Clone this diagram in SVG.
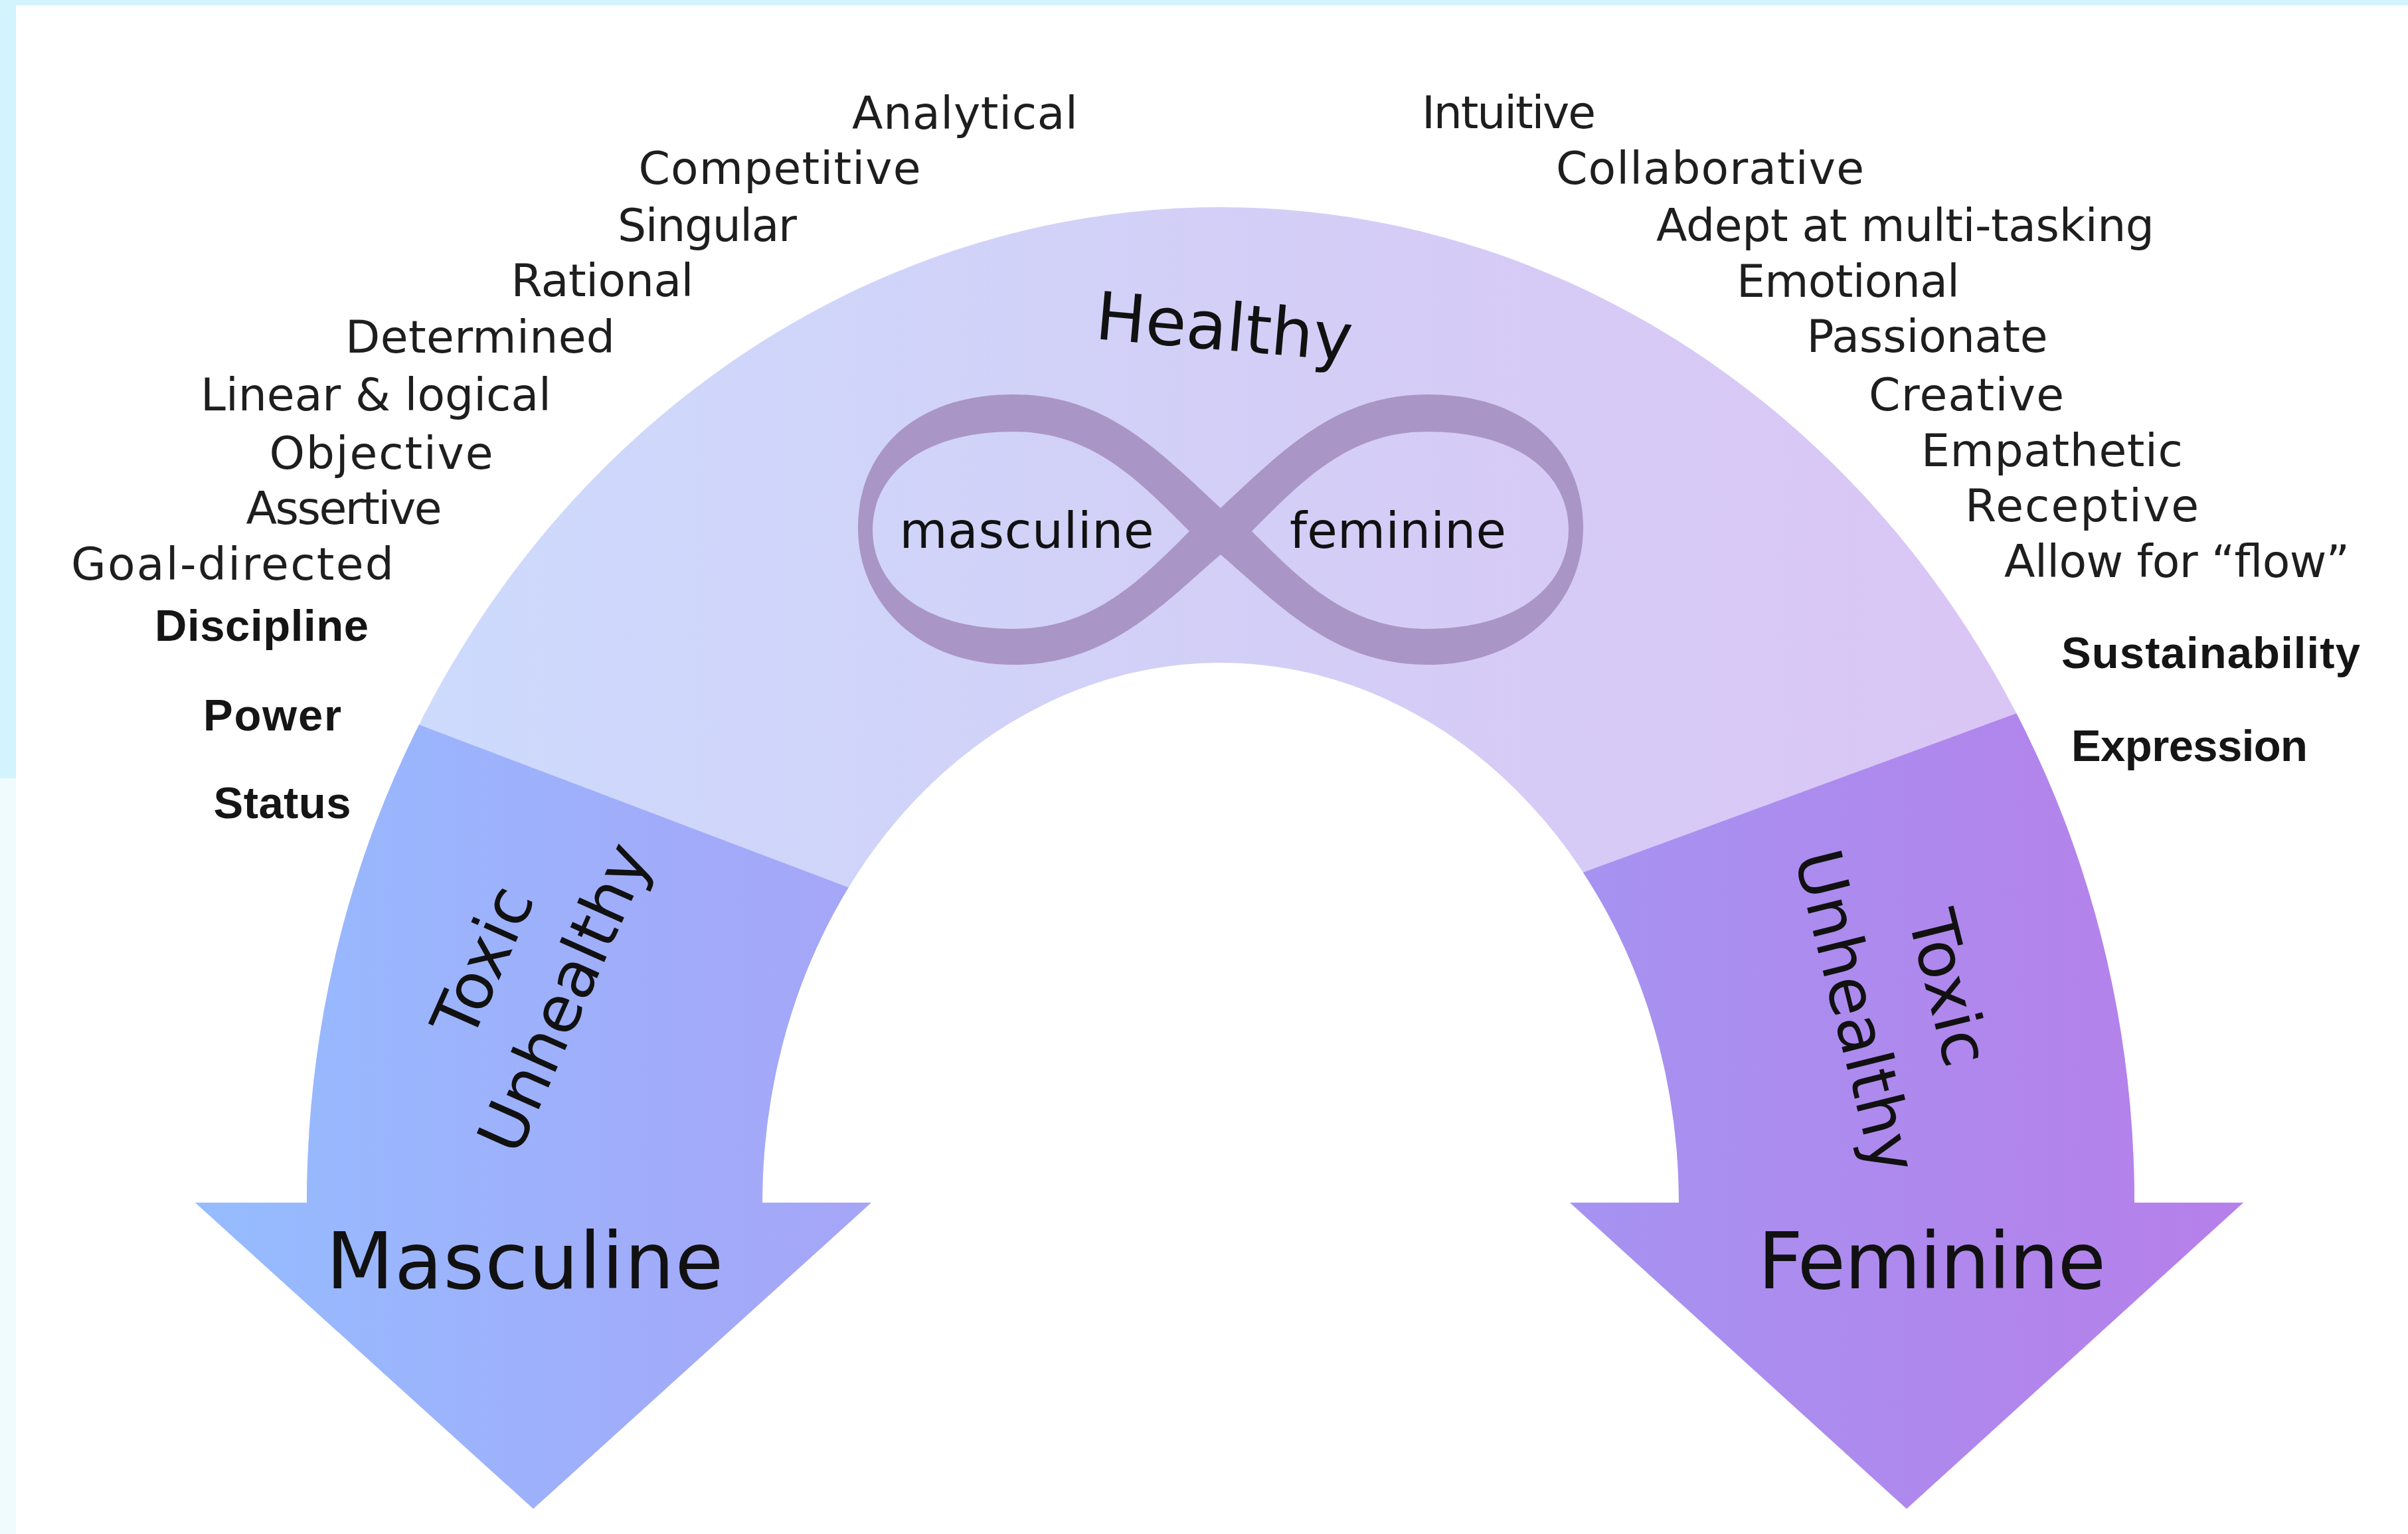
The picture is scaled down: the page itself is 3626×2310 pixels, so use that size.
<svg xmlns="http://www.w3.org/2000/svg" width="3626" height="2310" viewBox="0 0 3626 2310">
<style>
.t{font-family:"DejaVu Sans","Liberation Sans",sans-serif;font-size:68px;fill:#1e1e1e;}
.b{font-family:"Liberation Sans",Arial,sans-serif;font-weight:bold;font-size:67px;fill:#151515;}
.big{font-family:"DejaVu Sans","Liberation Sans",sans-serif;fill:#111111;}
</style>
<defs>
<linearGradient id="gHealthy" gradientUnits="userSpaceOnUse" x1="462" y1="0" x2="3214" y2="0">
<stop offset="0" stop-color="#ccdcfd"/><stop offset="0.5" stop-color="#d3cff7"/><stop offset="1" stop-color="#dbc4f4"/>
</linearGradient>
<linearGradient id="gMasc" gradientUnits="userSpaceOnUse" x1="298" y1="0" x2="1312" y2="0">
<stop offset="0" stop-color="#95bcff"/><stop offset="1" stop-color="#a6a5f7"/>
</linearGradient>
<linearGradient id="gFem" gradientUnits="userSpaceOnUse" x1="2364" y1="0" x2="3378" y2="0">
<stop offset="0" stop-color="#a693f1"/><stop offset="1" stop-color="#b67fea"/>
</linearGradient>
<path id="archShape" d="M 294 1811 L 803 2272 L 1312 1811 L 1148 1811 A 690 813 0 0 1 2528 1811 L 2364 1811 L 2871 2272 L 3378 1811 L 3214 1811 A 1376 1499 0 0 0 462 1811 Z"/>
<clipPath id="clipMasc"><polygon points="0,852 1838,1549 1838,2310 0,2310"/></clipPath>
<clipPath id="clipFem"><polygon points="1838,1514 3626,858 3626,2310 1838,2310"/></clipPath>
</defs>

<g id="background">
<rect x="0" y="0" width="3626" height="2310" fill="#d3f3fd"/>
<rect x="0" y="1172" width="24" height="1138" fill="#f0fbfe"/>
<rect x="24" y="8" width="3602" height="2302" fill="#ffffff"/>
</g>

<g id="healthy-arc">
<use href="#archShape" fill="url(#gHealthy)"/>
<text class="big" x="1843" y="527" font-size="100" text-anchor="middle" transform="rotate(5 1843 500)">Healthy</text>
</g>

<g id="masculine-arrow">
<use href="#archShape" fill="url(#gMasc)" clip-path="url(#clipMasc)"/>
<text class="big" font-size="97" text-anchor="middle" transform="translate(880 1516) rotate(-66)"><tspan x="0" y="-134">Toxic</tspan><tspan x="0" y="0">Unhealthy</tspan></text>
<text class="big" x="790" y="1940" font-size="118" text-anchor="middle" textLength="598">Masculine</text>
</g>

<g id="feminine-arrow">
<use href="#archShape" fill="url(#gFem)" clip-path="url(#clipFem)"/>
<text class="big" font-size="97" text-anchor="middle" transform="translate(2762 1531) rotate(76)"><tspan x="0" y="-144">Toxic</tspan><tspan x="0" y="0">Unhealthy</tspan></text>
<text class="big" x="2909" y="1940" font-size="118" text-anchor="middle" textLength="524">Feminine</text>
</g>

<g id="infinity">
<path fill="#a995c6" fill-rule="evenodd" d="M 1838 765 C 1930 680 2010 594 2150 594 C 2300 594 2384 680 2384 795 C 2384 910 2290 1001 2150 1001 C 2010 1001 1930 915 1838 835 C 1746 915 1666 1001 1526 1001 C 1386 1001 1292 910 1292 795 C 1292 680 1376 594 1526 594 C 1666 594 1746 680 1838 765 Z M 1885 800 C 1960 725 2030 650 2150 650 C 2288 650 2362 715 2362 798 C 2362 880 2288 947 2150 947 C 2030 947 1960 875 1885 800 Z M 1791 800 C 1716 725 1646 650 1526 650 C 1388 650 1314 715 1314 798 C 1314 880 1388 947 1526 947 C 1646 947 1716 875 1791 800 Z"/>
<text class="big" x="1546" y="825" font-size="74" text-anchor="middle" textLength="383">masculine</text>
<text class="big" x="2105" y="825" font-size="74" text-anchor="middle" textLength="326">feminine</text>
</g>

<g id="masculine-traits" text-anchor="middle">
<text class="t" x="1453" y="194" textLength="340">Analytical</text>
<text class="t" x="1174" y="277" textLength="425">Competitive</text>
<text class="t" x="1065" y="363" textLength="270">Singular</text>
<text class="t" x="907" y="446" textLength="275">Rational</text>
<text class="t" x="723" y="531" textLength="406">Determined</text>
<text class="t" x="566" y="618" textLength="528">Linear &amp; logical</text>
<text class="t" x="574" y="706" textLength="337">Objective</text>
<text class="t" x="518" y="789" textLength="295">Assertive</text>
<text class="t" x="350" y="873" textLength="486">Goal-directed</text>
<text class="b" x="394" y="965" textLength="322">Discipline</text>
<text class="b" x="410" y="1100" textLength="208">Power</text>
<text class="b" x="425" y="1232" textLength="207">Status</text>
</g>

<g id="feminine-traits" text-anchor="middle">
<text class="t" x="2272" y="193" textLength="262">Intuitive</text>
<text class="t" x="2575" y="277" textLength="464">Collaborative</text>
<text class="t" x="2869" y="363" textLength="750">Adept at multi-tasking</text>
<text class="t" x="2783" y="447" textLength="336">Emotional</text>
<text class="t" x="2902" y="530" textLength="363">Passionate</text>
<text class="t" x="2961" y="618" textLength="294">Creative</text>
<text class="t" x="3090" y="702" textLength="394">Empathetic</text>
<text class="t" x="3135" y="785" textLength="352">Receptive</text>
<text class="t" x="3278" y="869" textLength="520">Allow for “flow”</text>
<text class="b" x="3329" y="1006" textLength="450">Sustainability</text>
<text class="b" x="3297" y="1146" textLength="356">Expression</text>
</g>

<g id="connectors"/>
</svg>
